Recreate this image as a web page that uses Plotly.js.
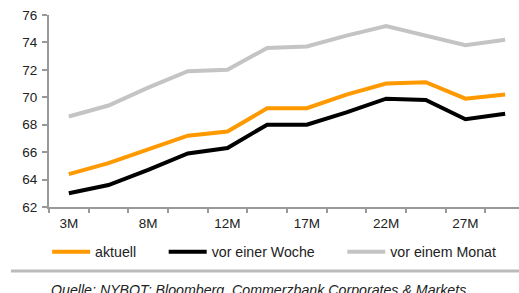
<!DOCTYPE html>
<html>
<head>
<meta charset="utf-8">
<script src="https://cdn.plot.ly/plotly-3.0.1.min.js"></script>
<style>html,body{margin:0;padding:0;background:#fff;}#chart{width:519px;height:293px;}</style>
</head>
<body>
<div id="chart"></div>
<script>
// Laufzeiten (Kontraktmonate)
var categories = ["3M","5M","8M","10M","12M","15M","17M","20M","22M","25M","27M","29M"];
var tickLabels = ["3M","","8M","","12M","","17M","","22M","","27M",""];
// Werte
var aktuell        = [64.4, 65.2, 66.2, 67.2, 67.5, 69.2, 69.2, 70.2, 71.0, 71.1, 69.9, 70.2];
var vorEinerWoche  = [63.0, 63.6, 64.7, 65.9, 66.3, 68.0, 68.0, 68.9, 69.9, 69.8, 68.4, 68.8];
var vorEinemMonat  = [68.6, 69.4, 70.7, 71.9, 72.0, 73.6, 73.7, 74.5, 75.2, 74.5, 73.8, 74.2];
var seriesNames = ["aktuell", "vor einer Woche", "vor einem Monat"];
var yTicks = [62, 64, 66, 68, 70, 72, 74, 76];
var source = "Quelle: NYBOT; Bloomberg, Commerzbank Corporates & Markets";

var font = "Arial, 'Liberation Sans', sans-serif";
var traces = [
  {x: categories, y: aktuell, name: seriesNames[0], type: "scatter", mode: "lines",
   line: {color: "#FF9900", width: 4}, legend: "legend"},
  {x: categories, y: vorEinerWoche, name: seriesNames[1], type: "scatter", mode: "lines",
   line: {color: "#000000", width: 4}, legend: "legend2"},
  {x: categories, y: vorEinemMonat, name: seriesNames[2], type: "scatter", mode: "lines",
   line: {color: "#C4C4C4", width: 4}, legend: "legend3"}
];
// draw order: gray, black, orange
traces = [traces[2], traces[1], traces[0]];

var legendBase = {orientation: "h", yanchor: "middle", y: -0.234, xanchor: "left", itemwidth: 38,
  bgcolor: "rgba(0,0,0,0)", borderwidth: 0, font: {family: font, size: 14.2, color: "#222"}};

var layout = {
  width: 519, height: 293,
  margin: {l: 49, r: 0, t: 15, b: 86},
  paper_bgcolor: "#fff", plot_bgcolor: "#fff",
  font: {family: font, size: 13.5, color: "#222"},
  showlegend: true,
  xaxis: {
    type: "category", range: [-0.5, 11.35],
    tickmode: "array", tickvals: categories, ticktext: tickLabels,
    tickson: "boundaries", ticks: "outside", ticklen: 4, tickwidth: 2, tickcolor: "#999",
    showline: true, linecolor: "#999", linewidth: 2, showgrid: false, zeroline: false,
    ticklabelstandoff: 3,
    tickfont: {family: font, size: 13.5, color: "#222"}, fixedrange: true
  },
  yaxis: {
    range: [62, 76], tickmode: "array", tickvals: yTicks,
    ticks: "outside", ticklen: 5, tickwidth: 2, tickcolor: "#999",
    showline: true, linecolor: "#999", linewidth: 2, showgrid: false, zeroline: false,
    ticklabelstandoff: 2,
    tickfont: {family: font, size: 13.5, color: "#222"}, fixedrange: true
  },
  legend: Object.assign({}, legendBase, {x: -0.004}),
  legend2: Object.assign({}, legendBase, {x: 0.244}),
  legend3: Object.assign({}, legendBase, {x: 0.624}),
  shapes: [{type: "line", xref: "paper", yref: "paper", x0: -0.081, x1: 1.0, y0: -0.333, y1: -0.333,
            line: {color: "#BBBBBB", width: 3}}],
  annotations: [{text: "<i>" + source + "</i>", xref: "paper", yref: "paper", x: 0.445, y: -0.38,
                 xanchor: "center", yanchor: "top", showarrow: false,
                 font: {family: font, size: 14.2, color: "#222"}}]
};
Plotly.newPlot("chart", traces, layout, {displayModeBar: false, staticPlot: true});
</script>
</body>
</html>
